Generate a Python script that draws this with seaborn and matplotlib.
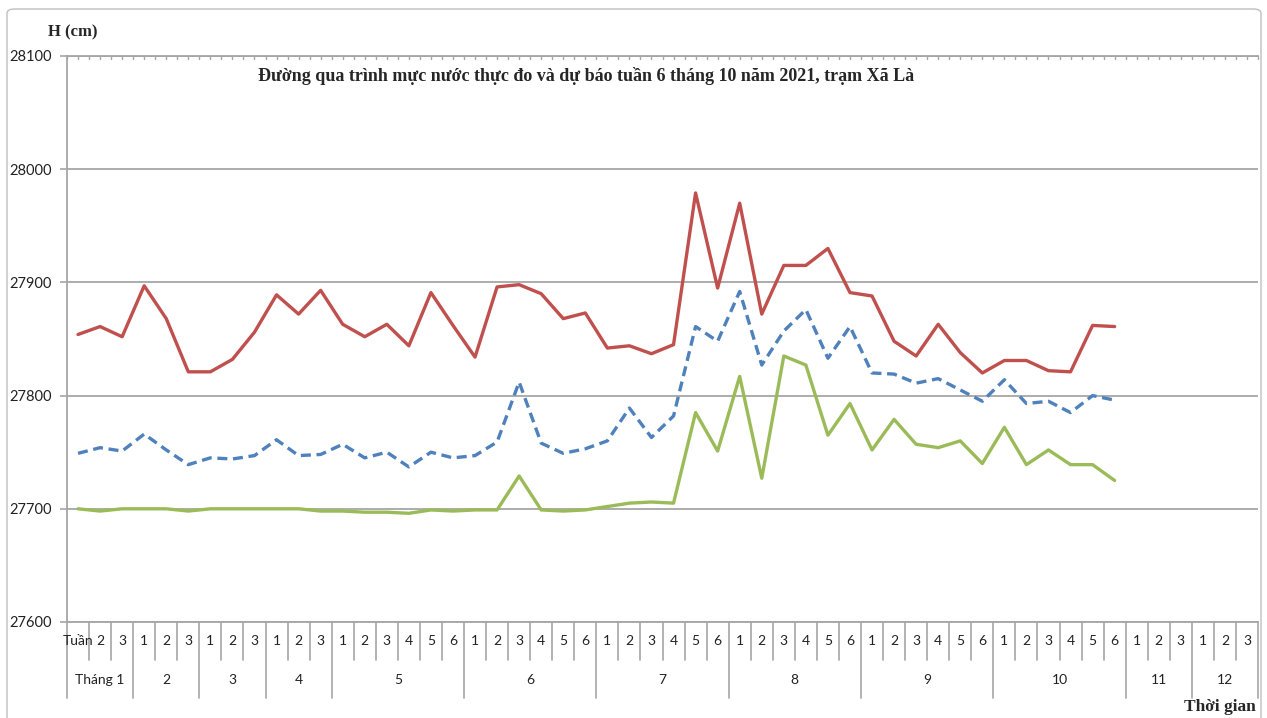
import numpy as np
import pandas as pd
import matplotlib
matplotlib.use("Agg")
import matplotlib.pyplot as plt
import matplotlib.transforms as mtransforms
from matplotlib.patches import FancyBboxPatch
import seaborn as sns

# --- DATOS ---
tuan_labels = ["Tuần", "2", "3"] + ["1", "2", "3"] * 3 + ["1", "2", "3", "4", "5", "6"] * 6 + ["1", "2", "3"] * 2
thang_labels = ["Tháng 1", "2", "3", "4", "5", "6", "7", "8", "9", "10", "11", "12"]
thang_sizes = [3, 3, 3, 3, 6, 6, 6, 6, 6, 6, 3, 3]

h_max = [27854, 27861, 27852, 27897, 27868, 27821, 27821, 27832, 27856, 27889,
         27872, 27893, 27863, 27852, 27863, 27844, 27891, 27862, 27834, 27896,
         27898, 27890, 27868, 27873, 27842, 27844, 27837, 27845, 27979, 27895,
         27970, 27872, 27915, 27915, 27930, 27891, 27888, 27848, 27835, 27863,
         27838, 27820, 27831, 27831, 27822, 27821, 27862, 27861]
h_tb = [27749, 27754, 27751, 27766, 27752, 27739, 27745, 27744, 27747, 27761,
        27747, 27748, 27757, 27745, 27750, 27737, 27750, 27745, 27747, 27759,
        27812, 27758, 27749, 27753, 27760, 27789, 27763, 27782, 27861, 27848,
        27892, 27827, 27857, 27876, 27833, 27861, 27820, 27819, 27811, 27815,
        27805, 27795, 27814, 27793, 27795, 27785, 27800, 27796]
h_min = [27700, 27698, 27700, 27700, 27700, 27698, 27700, 27700, 27700, 27700,
         27700, 27698, 27698, 27697, 27697, 27696, 27699, 27698, 27699, 27699,
         27729, 27699, 27698, 27699, 27702, 27705, 27706, 27705, 27785, 27751,
         27817, 27727, 27835, 27827, 27765, 27793, 27752, 27779, 27757, 27754,
         27760, 27740, 27772, 27739, 27752, 27739, 27739, 27725]

y_ticks = [27600, 27700, 27800, 27900, 28000, 28100]

df = pd.DataFrame({"pos": np.arange(len(h_max)), "max": h_max, "tb": h_tb, "min": h_min})

# --- ESTILO ---
sns.set_style("white")
plt.rcParams["font.family"] = ["Lato", "DejaVu Sans"]
GRIS = "#a6a6a6"

fig = plt.figure(figsize=(12.67, 7.18), dpi=100)
ax = fig.add_axes([67 / 1267, 1 - 622 / 718, (1258 - 67) / 1267, (622 - 56) / 718])

# borde exterior del grafico
fig.patches.append(FancyBboxPatch((7 / 1267, -0.02), 1254 / 1267, 1 - 9 / 718 + 0.02,
                                  boxstyle="round,pad=0,rounding_size=0.006",
                                  transform=fig.transFigure, fill=False,
                                  edgecolor="#bfbfbf", linewidth=1.0))

sns.lineplot(data=df, x="pos", y="max", ax=ax, color="#C0504D", linewidth=2.4)
sns.lineplot(data=df, x="pos", y="tb", ax=ax, color="#4F81BD", linewidth=2.4)
ax.lines[-1].set_dashes([3, 1.7])
sns.lineplot(data=df, x="pos", y="min", ax=ax, color="#9BBB59", linewidth=2.4)

n_cat = len(tuan_labels)
ax.set_xlim(-0.5, n_cat - 0.5)
ax.set_ylim(27600, 28100)
ax.set_yticks(y_ticks)
ax.set_yticklabels([str(v) for v in y_ticks], fontsize=10.5, color="#222222")
ax.yaxis.grid(True, color=GRIS, linewidth=1.3)
ax.set_axisbelow(True)
ax.tick_params(axis="y", direction="out", length=5, color=GRIS, width=1.2, pad=6, left=True)
ax.set_xticks([])
ax.set_xlabel("")
ax.set_ylabel("")

for s in ["left", "bottom", "top"]:
    ax.spines[s].set_color(GRIS)
    ax.spines[s].set_linewidth(1.3)
ax.spines["right"].set_visible(False)

# marcas pequenas en el borde superior
trans_top = mtransforms.blended_transform_factory(ax.transData, ax.transAxes)
for xv in np.arange(-0.5, n_cat - 0.5 + 0.01, 0.5):
    ax.plot([xv, xv], [1, 0.994], transform=trans_top, color=GRIS, linewidth=1.0, clip_on=False)

# tabla de categorias debajo del eje
trans = mtransforms.blended_transform_factory(ax.transData, ax.transAxes)
y_sem = -(660 - 622) / 566
y_mes = -(698 - 622) / 566
bordes_mes = np.cumsum([0] + thang_sizes) - 0.5
for b in np.arange(-0.5, n_cat, 1.0):
    bajo = y_mes if np.any(np.isclose(bordes_mes, b)) else y_sem
    ax.plot([b, b], [0, bajo], transform=trans, color=GRIS, linewidth=1.2, clip_on=False)

for i, lab in enumerate(tuan_labels):
    ax.text(i, -(641 - 622) / 566, lab, transform=trans, ha="center", va="center",
            fontsize=10, color="#222222")

for k, lab in enumerate(thang_labels):
    centro = (bordes_mes[k] + bordes_mes[k + 1]) / 2
    ax.text(centro, -(680 - 622) / 566, lab, transform=trans, ha="center", va="center",
            fontsize=10, color="#222222")

# textos
serif_b = dict(family=["Liberation Serif", "DejaVu Serif"], fontweight="bold")
fig.text(586 / 1267, 1 - 76 / 718,
         "Đường qua trình mực nước thực đo và dự báo tuần 6 tháng 10 năm 2021, trạm Xã Là",
         ha="center", va="center", fontsize=13, **serif_b)
fig.text(48 / 1267, 1 - 32 / 718, "H (cm)", ha="left", va="center", fontsize=12, **serif_b)
fig.text(1256 / 1267, 1 - 707 / 718, "Thời gian", ha="right", va="center", fontsize=12.5, **serif_b)

fig.savefig("out.png", dpi=100)
